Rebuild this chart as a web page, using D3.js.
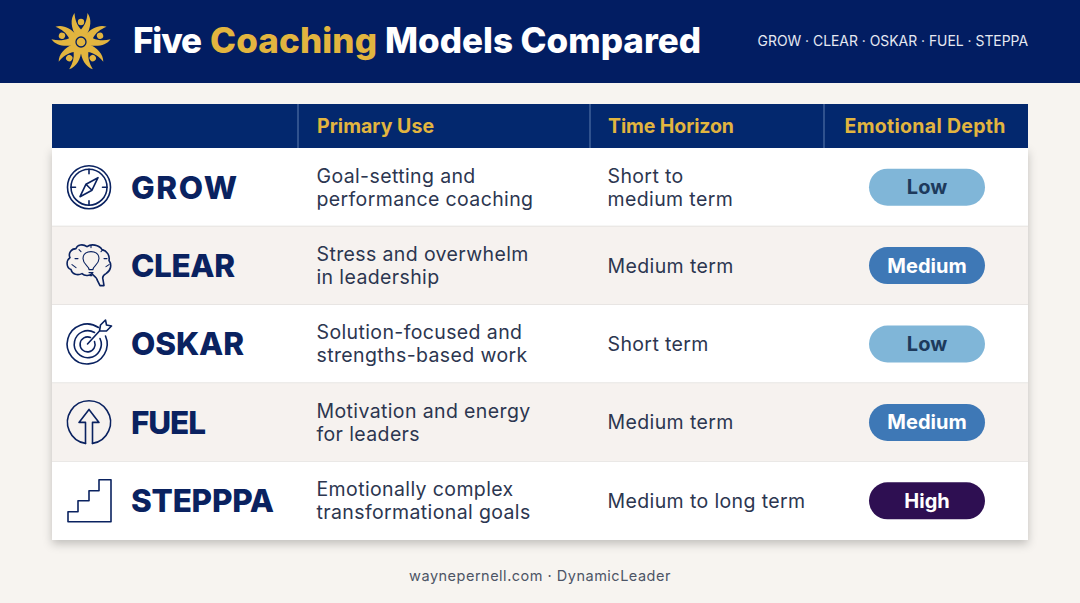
<!DOCTYPE html>
<html>
<head>
<meta charset="utf-8">
<script src="https://cdn.jsdelivr.net/npm/d3@7"></script>
<style>
  html, body { margin: 0; padding: 0; background: #f7f4f0; overflow: hidden; }
  svg { display: block; }
  text { font-family: Inter, "Open Sans", sans-serif; }
</style>
</head>
<body>
<div class="container"></div>
<script>
const w = 1080
const h = 603

const navy = "#0a2260"
const gold = "#e2b53f"

const titleParts = ["Five", "Coaching", "Models Compared"]
const subtitle = "GROW · CLEAR · OSKAR · FUEL · STEPPA"
const footer = "waynepernell.com · DynamicLeader"
const columns = ["", "Primary Use", "Time Horizon", "Emotional Depth"]
const models = ["GROW", "CLEAR", "OSKAR", "FUEL", "STEPPPA"]
const primaryUse = [
  ["Goal-setting and", "performance coaching"],
  ["Stress and overwhelm", "in leadership"],
  ["Solution-focused and", "strengths-based work"],
  ["Motivation and energy", "for leaders"],
  ["Emotionally complex", "transformational goals"]
]
const timeHorizon = [
  ["Short to", "medium term"],
  ["Medium term"],
  ["Short term"],
  ["Medium term"],
  ["Medium to long term"]
]
const depth = ["Low", "Medium", "Low", "Medium", "High"]
const depthLevels = ["Low", "Medium", "High"]

const tableLeft = 52
const tableRight = 1028
const headTop = 104
const headBottom = 148
const tableBottom = 540
const colEdges = [52, 298, 590, 824, 1028]

const yScale = d3.scaleBand().domain(models).range([headBottom, tableBottom])
const pillFill = d3.scaleOrdinal().domain(depthLevels).range(["#80b6d8", "#3e78b6", "#2e0f52"])
const pillText = d3.scaleOrdinal().domain(depthLevels).range(["#1d3a5c", "#ffffff", "#ffffff"])

const svg = d3.select(".container").append("svg")
  .attr("width", w)
  .attr("height", h)

const defs = svg.append("defs")
const shadow = defs.append("filter").attr("id", "shadow")
  .attr("x", "-5%").attr("y", "-5%").attr("width", "110%").attr("height", "112%")
shadow.append("feDropShadow")
  .attr("dx", 0).attr("dy", 4).attr("stdDeviation", 5)
  .attr("flood-color", "#000").attr("flood-opacity", 0.22)

svg.append("rect").attr("width", w).attr("height", h).attr("fill", "#f7f4f0")

// top band
svg.append("rect").attr("width", w).attr("height", 83).attr("fill", "#021d62")

// logo: five figures around a ring
const logo = svg.append("g").attr("transform", "translate(81,42)").attr("fill", gold)
d3.range(5).forEach(i => {
  const arm = logo.append("g").attr("transform", `rotate(${i * 72})`)
  arm.append("path")
    .attr("d", "M-5,-6 C-10,-14 -11,-23 -6.5,-29 C-6,-22 -4,-17 0,-12.5 C4,-17 6,-22 6.5,-29 C11,-23 10,-14 5,-6 Z")
  arm.append("circle").attr("cx", 0).attr("cy", -20).attr("r", 3.2)
})
logo.append("circle").attr("r", 9)
logo.append("circle").attr("r", 5).attr("fill", gold).attr("stroke", "#021d62").attr("stroke-width", 1.3)

const titleX = [133, 210, 385]
const titleW = [69, 167, 316]
svg.selectAll(".title").data(titleParts).enter().append("text")
  .attr("class", "title")
  .attr("x", (d, i) => titleX[i])
  .attr("y", 53)
  .attr("font-size", 35)
  .attr("font-weight", 800)
  .attr("textLength", (d, i) => titleW[i])
  .attr("fill", (d, i) => i === 1 ? gold : "#ffffff")
  .text(d => d)

svg.append("text")
  .attr("x", 1028).attr("y", 46)
  .attr("text-anchor", "end")
  .attr("font-size", 13.9)
  .attr("fill", "#e6e9f2")
  .text(subtitle)

// table body
svg.append("rect")
  .attr("x", tableLeft).attr("y", headBottom)
  .attr("width", tableRight - tableLeft).attr("height", tableBottom - headBottom)
  .attr("fill", "#fff")
  .attr("filter", "url(#shadow)")

const rows = svg.selectAll(".row").data(models).enter().append("g")
  .attr("class", "row")
  .attr("transform", d => `translate(0,${yScale(d)})`)

rows.append("rect")
  .attr("x", tableLeft)
  .attr("width", tableRight - tableLeft)
  .attr("height", yScale.bandwidth())
  .attr("fill", (d, i) => i % 2 ? "#f6f2ef" : "#ffffff")

rows.filter((d, i) => i < models.length - 1).append("line")
  .attr("x1", tableLeft).attr("x2", tableRight)
  .attr("y1", yScale.bandwidth()).attr("y2", yScale.bandwidth())
  .attr("stroke", "#dcd9d6").attr("stroke-width", 1.2)

// header
svg.append("rect")
  .attr("x", tableLeft).attr("y", headTop)
  .attr("width", tableRight - tableLeft).attr("height", headBottom - headTop)
  .attr("fill", "#03286e")

svg.selectAll(".sep").data(colEdges.slice(1, 4)).enter().append("line")
  .attr("class", "sep")
  .attr("x1", d => d).attr("x2", d => d)
  .attr("y1", headTop).attr("y2", headBottom)
  .attr("stroke", "#5f7cae").attr("stroke-width", 1)

const headX = [0, 317, 608, 925]
const headW = [0, 117, 126, 161]
svg.selectAll(".head").data(columns).enter().filter(d => d).append("text")
  .attr("class", "head")
  .attr("x", d => headX[columns.indexOf(d)])
  .attr("y", 132.5)
  .attr("text-anchor", d => columns.indexOf(d) === 3 ? "middle" : "start")
  .attr("font-size", 19.5)
  .attr("font-weight", 700)
  .attr("fill", gold)
  .attr("textLength", d => headW[columns.indexOf(d)])
  .text(d => d)

// row content
const mid = yScale.bandwidth() / 2
const nameW = [106, 104, 113, 75, 143]

rows.append("text")
  .attr("x", 131).attr("y", mid + 11.5)
  .attr("font-size", 31.5)
  .attr("font-weight", 800)
  .attr("fill", navy)
  .attr("textLength", (d, i) => nameW[i])
  .text(d => d)

function multiline(sel, x, lines) {
  sel.each(function(d, i) {
    const ls = lines[i]
    d3.select(this).selectAll(null).data(ls).enter().append("text")
      .attr("x", x)
      .attr("y", (l, j) => mid + 7 + (j - (ls.length - 1) / 2) * 23)
      .attr("font-size", 19.5)
      .attr("letter-spacing", 0.38)
      .attr("fill", "#2c3650")
      .text(l => l)
  })
}
multiline(rows, 316.5, primaryUse)
multiline(rows, 607.5, timeHorizon)

rows.append("rect")
  .attr("x", 869).attr("y", mid - 18.5)
  .attr("width", 116).attr("height", 37)
  .attr("rx", 18.5)
  .attr("fill", (d, i) => pillFill(depth[i]))

rows.append("text")
  .attr("x", 927).attr("y", mid + 7)
  .attr("text-anchor", "middle")
  .attr("font-size", 20)
  .attr("font-weight", 700)
  .attr("fill", (d, i) => pillText(depth[i]))
  .text((d, i) => depth[i])

// icons, drawn around the middle of each row
const icons = rows.append("g")
  .attr("transform", `translate(89,${mid})`)
  .attr("fill", "none")
  .attr("stroke", navy)
  .attr("stroke-width", 1.6)
  .attr("stroke-linejoin", "round")
  .attr("stroke-linecap", "round")

const grow = icons.filter(d => d === "GROW")
grow.append("circle").attr("r", 21.5)
grow.append("circle").attr("r", 18)
grow.append("path").attr("d", "M0,-18V-13.5M0,18V13.5M-18,0H-13.5M18,0H13.5")
grow.append("path").attr("d", "M9,-9.5L3,3L-9,9.5L-3,-3ZM-3,-3L3,3")

const clear = icons.filter(d => d === "CLEAR")
clear.append("path").attr("d", "M-2,-19 C-6,-22 -12,-21 -13,-17 C-18,-17 -21,-12 -19,-8 C-23,-5 -23,2 -18,4 C-17,9 -11,10 -7,8 C-4,11 1,10 3,8 C5,11 8,12 8,14 L11,20 L15,20 L14,14 C13,11 15,9 17,8 C22,5 23,-1 20,-5 C21,-10 18,-15 13,-16 C10,-21 2,-22 -2,-19 Z")
clear.append("path").attr("d", "M-1,4 C-1,0 -7,-1 -7,-7 C-7,-12 -3,-14 1,-14 C5,-14 9,-12 9,-7 C9,-1 3,0 3,4 Z M-1,7H3M0,10H2").attr("stroke-width", 1.1).attr("transform", "translate(1,0)")
clear.append("path").attr("d", "M-11,-7H-14M15,-7H18M-8,-14L-10,-16M12,-14L14,-16M2,-18V-20M-13,2L-17,-1M17,1L20,-1").attr("stroke-width", 1.1)

const oskar = icons.filter(d => d === "OSKAR")
const oskarC = oskar.append("g").attr("transform", "translate(-1.5,0)")
oskarC.append("path").attr("d", "M11,-16.5 A20,20 0 1 0 18,-8")
oskarC.append("path").attr("d", "M7,-11.5 A13.5,13.5 0 1 0 12.5,-5.5")
oskarC.append("path").attr("d", "M3,-6.5 A7.5,7.5 0 1 0 7,-2.5")
oskarC.append("path").attr("d", "M0,0 L12,-13 M12,-13 L13,-19 L18,-24 L19,-19 L24,-18 L19,-13 Z")

const fuel = icons.filter(d => d === "FUEL")
fuel.append("path").attr("d", "M-3.5,21 A21.5,21.5 0 1 1 3.5,21")
fuel.append("path").attr("d", "M-3.5,21 V0 H-10 L0,-13 L10,0 H3.5 V21")

const steps = icons.filter(d => d === "STEPPPA")
steps.append("path").attr("d", "M-21,21 V11 H-11 V0 H0 V-10 H10 V-21 H22 V21 Z")

svg.append("text")
  .attr("x", 540).attr("y", 580.5)
  .attr("text-anchor", "middle")
  .attr("font-size", 14.5)
  .attr("letter-spacing", 0.5)
  .attr("fill", "#4d5566")
  .text(footer)
</script>
</body>
</html>
